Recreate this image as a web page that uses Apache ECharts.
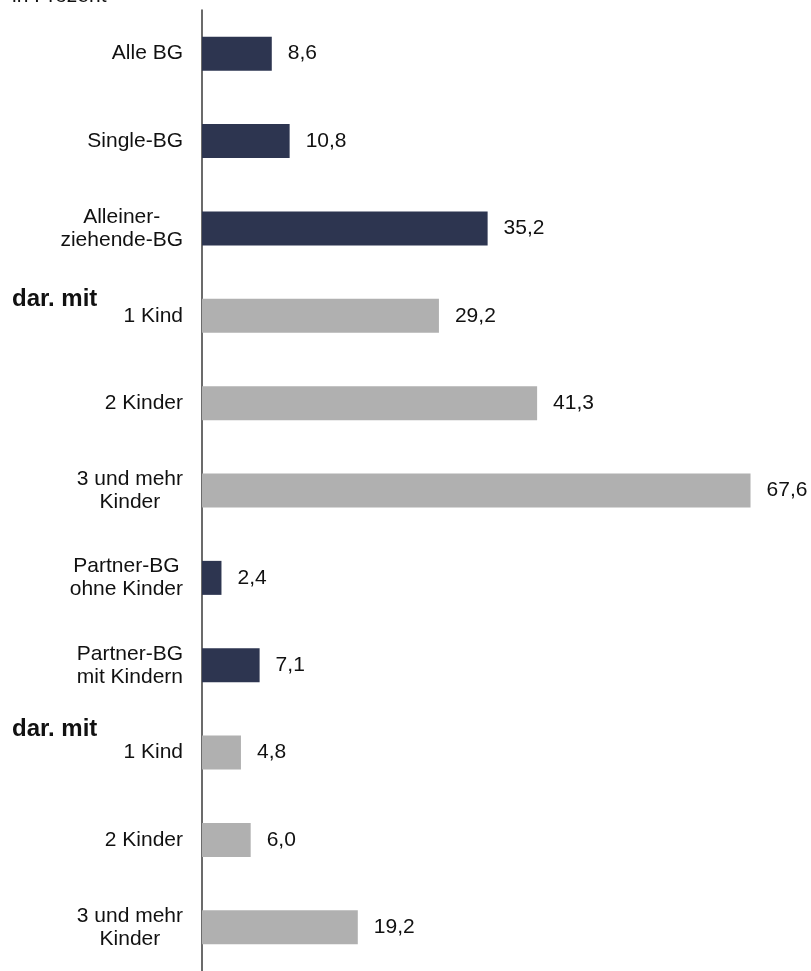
<!DOCTYPE html>
<html>
<head>
<meta charset="utf-8">
<script src="https://cdn.jsdelivr.net/npm/echarts@6/dist/echarts.min.js"></script>
<style>
html,body{margin:0;padding:0;background:#fff;}
#chart{width:811px;height:971px;}
</style>
</head>
<body>
<div id="chart"></div>
<script>
const categories = [
  'Alle BG', 'Single-BG', 'Alleiner-\nziehende-BG', '1 Kind', '2 Kinder', '3 und mehr\nKinder',
  'Partner-BG\nohne Kinder', 'Partner-BG\nmit Kindern', '1 Kind ', '2 Kinder ', '3 und mehr\nKinder '
];
const values = [8.6, 10.8, 35.2, 29.2, 41.3, 67.6, 2.4, 7.1, 4.8, 6.0, 19.2];
const isSub = [false, false, false, true, true, true, false, false, true, true, true];
const colorMain = '#2D3550';
const colorSub = '#B0B0B0';

const chart = echarts.init(document.getElementById('chart'), null, {renderer: 'canvas'});
const font = 'Liberation Sans, Arial, sans-serif';
chart.setOption({
  animation: false,
  backgroundColor: '#fff',
  grid: {left: 202, top: 10, width: 568, bottom: 0, containLabel: false},
  xAxis: {
    type: 'value', min: 0, max: 70,
    show: false
  },
  yAxis: {
    type: 'category', inverse: true, data: categories,
    axisLine: {show: true, lineStyle: {color: '#3a3a3a', width: 1.5}},
    axisTick: {show: false},
    axisLabel: {
      margin: 19, color: '#111', fontFamily: font, fontSize: 21, lineHeight: 23,
      formatter: v => v.trim().split('\n').map(l => '{c|' + l + '}').join('\n'),
      rich: {c: {align: 'center', fontFamily: font, fontSize: 21, lineHeight: 23, color: '#111'}}
    }
  },
  series: [{
    type: 'bar',
    barWidth: 34,
    data: values.map((v, i) => ({value: v, itemStyle: {color: isSub[i] ? colorSub : colorMain}})),
    label: {
      show: true, position: 'right', distance: 16,
      color: '#111', fontFamily: font, fontSize: 21,
      formatter: p => p.value.toFixed(1).replace('.', ',')
    }
  }],
  graphic: [
    {type: 'text', x: 12, y: -14, style: {text: 'in Prozent', font: '21px ' + font, fill: '#111'}},
    {type: 'text', x: 12, y: 287, style: {text: 'dar. mit', font: 'bold 24px ' + font, fill: '#111'}},
    {type: 'text', x: 12, y: 717, style: {text: 'dar. mit', font: 'bold 24px ' + font, fill: '#111'}}
  ]
});
</script>
</body>
</html>
